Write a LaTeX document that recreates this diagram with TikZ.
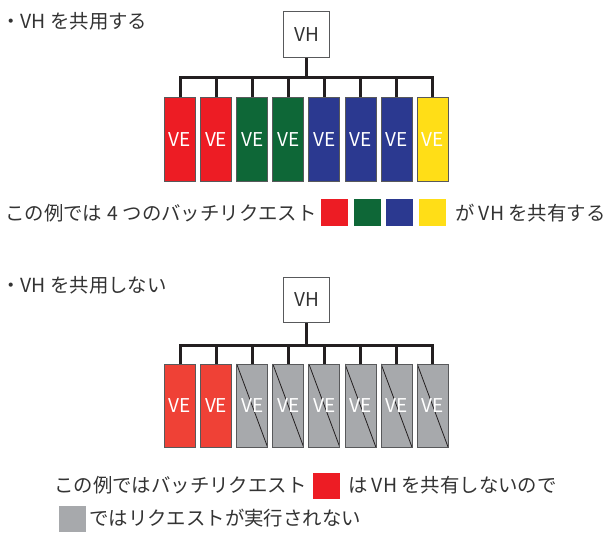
\documentclass[tikz,border=0pt]{standalone}
\usepackage{fontspec}
\setmainfont{Noto Sans CJK JP}
\definecolor{textgray}{HTML}{333333}
\definecolor{boxgray}{HTML}{58595B}
\definecolor{wireblack}{HTML}{231F20}
\definecolor{vered}{HTML}{ED1C24}
\definecolor{vegreen}{HTML}{0E6737}
\definecolor{veblue}{HTML}{2B3990}
\definecolor{veyellow}{HTML}{FFDE17}
\definecolor{vered2}{HTML}{EF4136}
\definecolor{vegray}{HTML}{A7A9AC}
\begin{document}
\begin{tikzpicture}[x=1pt,y=-1pt,
  txt/.style={anchor=base west, inner sep=0, text=textgray, font=\fontsize{19.4}{23}\selectfont},
  vhbox/.style={draw=boxgray, line width=1, fill=white, minimum width=46.5, minimum height=45.5, inner sep=0, text=textgray, font=\fontsize{19}{23}\selectfont},
  vebox/.style={draw=boxgray, line width=0.9, minimum width=31, minimum height=83.5, inner sep=0, text=white, font=\fontsize{19}{23}\selectfont},
  crossed/.style={path picture={\draw[wireblack, line width=0.8] (path picture bounding box.north west) -- (path picture bounding box.south east);}},
  wire/.style={line width=3, draw=wireblack},
  swatch/.style={minimum width=27, minimum height=26.4, inner sep=0, draw=none}]
\useasboundingbox (0,0) rectangle (609,532);

% ---------- top: sharing VH ----------
\node[txt] (t1) at (1,29) {・VH を共用する};
\node[vhbox] (vhA) at (306.6,34.5) {VH};
\coordinate (busA) at (306.6,78);
\foreach \i/\c in {0/vered,1/vered,2/vegreen,3/vegreen,4/veblue,5/veblue,6/veblue,7/veyellow}{
  \node[vebox, fill=\c] (veA\i) at ({180+36.1*\i},139.2) {VE};
}
\draw[wire] (veA0.north) -- (veA0.north |- busA) -- (veA7.north |- busA) -- (veA7.north);
\foreach \i in {1,...,6}{ \draw[wire] (veA\i.north) -- (veA\i.north |- busA); }
\draw[wire] (vhA.south) -- (busA);

\node[txt] (l1a) at (5,220) {この例では\hspace{0.25em}4\hspace{0.25em}つのバッチリクエスト};
\node[swatch, fill=vered] (s1) at (334.2,212.5) {};
\node[swatch, fill=vegreen] (s2) at (367,212.5) {};
\node[swatch, fill=veblue] (s3) at (399.3,212.5) {};
\node[swatch, fill=veyellow] (s4) at (432.5,212.5) {};
\node[txt] (l1b) at (455,220) {が VH を共有する};

% ---------- bottom: not sharing VH ----------
\node[txt] (t2) at (1,292) {・VH を共用しない};
\node[vhbox] (vhB) at (306.6,300) {VH};
\coordinate (busB) at (306.6,345);
\foreach \i in {0,1}{
  \node[vebox, fill=vered2] (veB\i) at ({180+36.1*\i},405.7) {VE};
}
\foreach \i in {2,...,7}{
  \node[vebox, fill=vegray, crossed] (veB\i) at ({180+36.1*\i},405.7) {VE};
}
\draw[wire] (veB0.north) -- (veB0.north |- busB) -- (veB7.north |- busB) -- (veB7.north);
\foreach \i in {1,...,6}{ \draw[wire] (veB\i.north) -- (veB\i.north |- busB); }
\draw[wire] (vhB.south) -- (busB);

\node[txt] (l2a) at (54,492) {この例ではバッチリクエスト};
\node[swatch, fill=vered] (s5) at (326.3,486) {};
\node[txt] (l2b) at (348,492) {は VH を共有しないので};
\node[swatch, fill=vegray] (s6) at (72.7,519) {};
\node[txt] (l2c) at (89,525) {ではリクエストが実行されない};
\end{tikzpicture}
\end{document}
